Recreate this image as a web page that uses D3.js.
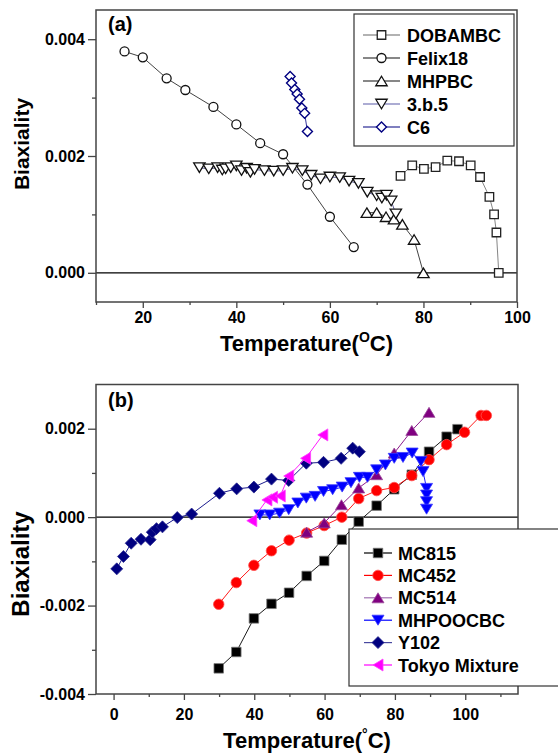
<!DOCTYPE html>
<html>
<head>
<meta charset="utf-8">
<script src="https://cdn.jsdelivr.net/npm/d3@7/dist/d3.min.js"></script>
<style>
  body { margin: 0; background: #fff; }
  svg text { font-family: "Liberation Sans", Arial, Helvetica, sans-serif; font-weight: bold; fill: #000; }
</style>
</head>
<body>
<svg id="chart" width="558" height="753"></svg>
<script>
// ---------- Panel (a): biaxiality vs temperature ----------
const dobambcT = [75.1, 77.6, 80.1, 82.6, 85.1, 87.6, 90.1, 92.1, 94.1, 95.1, 95.6, 96.1];
const dobambcB = [0.00166, 0.00184, 0.00178, 0.00181, 0.00192, 0.00191, 0.00184, 0.00164, 0.00130, 0.00100, 0.00069, 0];

const felixT = [16.1, 20.0, 25.1, 29.1, 35.1, 40.0, 45.1, 50.0, 55.2, 60.0, 65.1];
const felixB = [0.00379, 0.00369, 0.00333, 0.00313, 0.00284, 0.00254, 0.00222, 0.00203, 0.00151, 0.00096, 0.00044];

const mhpbcT = [67.9, 70.0, 72.0, 73.7, 75.5, 78.0, 80.0];
const mhpbcB = [0.00103, 0.00103, 0.00096, 0.00092, 0.00083, 0.00057, 0];

const b35T = [32.1, 34.1, 36.0, 37.0, 37.7, 38.8, 40.0, 41.1, 42.2, 43.0, 43.9, 46.0, 48.0, 50.0,
              52.0, 54.1, 56.0, 58.0, 60.0, 62.1, 64.1, 66.1, 68.0, 70.0, 71.1, 72.1, 73.1, 74.1];
const b35B = [0.00180, 0.00178, 0.00180, 0.00176, 0.00178, 0.00180, 0.00183, 0.00175, 0.00179, 0.00172,
              0.00177, 0.00175, 0.00174, 0.00175, 0.00179, 0.00175, 0.00167, 0.00161, 0.00164, 0.00163,
              0.00157, 0.00153, 0.00138, 0.00132, 0.00128, 0.00133, 0.00123, 0.00101];

const c6T = [51.5, 51.8, 52.5, 53.0, 53.5, 54.0, 54.6, 55.2];
const c6B = [0.00336, 0.00325, 0.00314, 0.00306, 0.00297, 0.00282, 0.00273, 0.00242];

const namesA = ["DOBAMBC", "Felix18", "MHPBC", "3.b.5", "C6"];
const xTicksA = [20, 40, 60, 80, 100];
const xMinorA = [10, 30, 50, 70, 90];
const yTicksA = [0, 0.002, 0.004];
const yMinorA = [0.001, 0.003];

// ---------- Panel (b) ----------
const mc815T = [29.9, 34.9, 39.9, 44.9, 49.9, 54.9, 59.9, 64.9, 69.7, 74.8, 79.8, 84.8, 89.7, 94.7, 97.8];
const mc815B = [-0.00342, -0.00305, -0.00229, -0.00196, -0.00171, -0.00133, -0.00099, -0.00051, -0.00010,
                0.00026, 0.00063, 0.00096, 0.00148, 0.00182, 0.00199];

const mc452T = [29.9, 34.9, 39.9, 44.9, 49.9, 54.9, 59.9, 64.9, 69.7, 74.8, 79.8, 84.8, 89.7, 94.7, 99.8, 104.5, 106.0];
const mc452B = [-0.00197, -0.00148, -0.00109, -0.00076, -0.00052, -0.00036, -0.00019, 0.00000, 0.00042,
                0.00060, 0.00067, 0.00094, 0.00130, 0.00164, 0.00192, 0.00230, 0.00230];

const mc514T = [54.9, 59.9, 64.8, 69.7, 74.8, 79.8, 84.8, 89.7];
const mc514B = [-0.00034, -0.00013, 0.00028, 0.00066, 0.00096, 0.00145, 0.00196, 0.00237];

const mhpoocbcT = [41.6, 44.4, 47.2, 49.8, 52.4, 54.8, 57.3, 59.7, 62.3, 65.0, 67.5, 69.9, 72.2, 74.8,
                   77.3, 79.8, 82.3, 84.9, 87.4, 88.0, 89.0, 89.0, 89.0, 89.0];
const mhpoocbcB = [0.00005, 0.00005, 0.00009, 0.00017, 0.00032, 0.00043, 0.00047, 0.00058, 0.00062, 0.00068,
                   0.00078, 0.00090, 0.00090, 0.00107, 0.00118, 0.00133, 0.00135, 0.00145, 0.00126, 0.00103,
                   0.00065, 0.00050, 0.00035, 0.00018];

const y102T = [0.9, 2.8, 5.0, 7.8, 10.4, 11.0, 12.2, 13.9, 18.1, 22.2, 30.1, 35.0, 39.9, 44.9, 49.8,
               54.8, 59.7, 64.7, 68.0, 69.9];
const y102B = [-0.00117, -0.00089, -0.00059, -0.00050, -0.00051, -0.00034, -0.00026, -0.00022, -0.00001,
               0.00007, 0.00054, 0.00064, 0.00068, 0.00086, 0.00083, 0.00122, 0.00124, 0.00133, 0.00156, 0.00148];

const tokyoT = [39.3, 43.6, 45.2, 47.4, 49.8, 54.6, 59.5];
const tokyoB = [-0.00008, 0.00039, 0.00045, 0.00048, 0.00093, 0.00133, 0.00186];

const namesB = ["MC815", "MC452", "MC514", "MHPOOCBC", "Y102", "Tokyo Mixture"];
const xTicksB = [0, 20, 40, 60, 80, 100];
const xMinorB = [10, 30, 50, 70, 90, 110];
const yTicksB = [-0.004, -0.002, 0, 0.002];
const yMinorB = [-0.003, -0.001, 0.001];

// ---------- marker shapes (s = nominal size in px) ----------
const shape = {
  square:  s => `M${-s/2},${-s/2}h${s}v${s}h${-s}Z`,
  circle:  s => `M${s/2},0A${s/2},${s/2} 0 1,1 ${-s/2},0A${s/2},${s/2} 0 1,1 ${s/2},0Z`,
  up:      s => `M0,${-s/2}L${s*0.6},${s/2}L${-s*0.6},${s/2}Z`,
  down:    s => `M0,${s/2}L${s*0.6},${-s/2}L${-s*0.6},${-s/2}Z`,
  left:    s => `M${-s/2},0L${s/2},${-s*0.6}L${s/2},${s*0.6}Z`,
  diamond: s => `M0,${-s/2}L${s/2},0L0,${s/2}L${-s/2},0Z`
};

const svg = d3.select("#chart");
const fmtY = d => d.toFixed(3);
const FRAME = "#444";

function drawPanel(p) {
  const x = d3.scaleLinear().domain(p.xDomain).range([p.left, p.right]);
  const y = d3.scaleLinear().domain(p.yDomain).range([p.bottom, p.top]);
  const g = svg.append("g");

  // axes: major ticks with labels, minor ticks without
  const styleAxis = (sel) => {
    sel.select(".domain").remove();
    sel.selectAll("line").attr("stroke", FRAME).attr("stroke-width", 1.3);
    sel.selectAll("text").attr("font-size", 16).attr("font-family", null);
  };
  g.append("g").attr("transform", `translate(0,${p.bottom})`)
    .call(d3.axisBottom(x).tickValues(p.xTicks).tickSize(6).tickPadding(p.xPad).tickFormat(d3.format("d")))
    .call(styleAxis);
  g.append("g").attr("transform", `translate(0,${p.bottom})`)
    .call(d3.axisBottom(x).tickValues(p.xMinor).tickSize(3).tickFormat(""))
    .call(styleAxis);
  g.append("g").attr("transform", `translate(${p.left},0)`)
    .call(d3.axisLeft(y).tickValues(p.yTicks).tickSize(8).tickPadding(3).tickFormat(fmtY))
    .call(styleAxis);
  g.append("g").attr("transform", `translate(${p.left},0)`)
    .call(d3.axisLeft(y).tickValues(p.yMinor).tickSize(4).tickFormat(""))
    .call(styleAxis);

  // zero reference line
  g.append("line")
    .attr("x1", p.left).attr("x2", p.right)
    .attr("y1", y(0)).attr("y2", y(0))
    .attr("stroke", "#000").attr("stroke-width", 1.2);

  // series
  const clipId = "clip" + p.id;
  svg.append("clipPath").attr("id", clipId).append("rect")
    .attr("x", p.left).attr("y", p.top).attr("width", p.right - p.left).attr("height", p.bottom - p.top);
  const data = g.append("g").attr("clip-path", `url(#${clipId})`);
  const line = d3.line().x(d => x(d[0])).y(d => y(d[1]));
  p.series.forEach(s => {
    const pts = s.t.map((t, i) => [t, s.b[i]]);
    data.append("path").datum(pts).attr("d", line)
      .attr("fill", "none").attr("stroke", s.line).attr("stroke-width", s.lw || 1);
    data.selectAll(null).data(pts).enter().append("path")
      .attr("transform", d => `translate(${x(d[0])},${y(d[1])})`)
      .attr("d", shape[s.shape](s.size))
      .attr("fill", s.fill).attr("stroke", s.stroke).attr("stroke-width", s.sw);
  });

  // frame
  g.append("rect")
    .attr("x", p.left).attr("y", p.top)
    .attr("width", p.right - p.left).attr("height", p.bottom - p.top)
    .attr("fill", "none").attr("stroke", FRAME).attr("stroke-width", 1.5);

  // panel tag
  g.append("text").attr("x", p.left + 12).attr("y", p.tagY)
    .attr("font-size", 20).text(p.tag);

  // axis titles
  const xt = g.append("text").attr("x", (p.left + p.right) / 2).attr("y", p.xTitleY)
    .attr("text-anchor", "middle").attr("font-size", 22);
  xt.append("tspan").text("Temperature(");
  xt.append("tspan").attr("font-size", 14).attr("dy", -9).text(p.degree);
  xt.append("tspan").attr("dy", 9).text("C)");

  g.append("text")
    .attr("transform", `translate(${p.yTitleX},${p.yTitleY}) rotate(-90)`)
    .attr("text-anchor", "middle").attr("font-size", p.yTitleSize)
    .text("Biaxiality");

  // legend
  const L = p.legend;
  g.append("rect").attr("x", L.x).attr("y", L.y).attr("width", L.w).attr("height", L.h)
    .attr("fill", "#fff").attr("stroke", "#333").attr("stroke-width", 1.2);
  p.series.forEach((s, i) => {
    const cy = L.y0 + i * L.dy;
    g.append("line").attr("x1", L.lx1).attr("x2", L.lx2).attr("y1", cy).attr("y2", cy)
      .attr("stroke", s.legendLine || s.line).attr("stroke-width", 1.2);
    g.append("path").attr("transform", `translate(${(L.lx1 + L.lx2) / 2},${cy})`)
      .attr("d", shape[s.shape](s.size))
      .attr("fill", s.fill).attr("stroke", s.stroke).attr("stroke-width", s.sw);
    g.append("text").attr("x", L.tx).attr("y", cy + 6.5).attr("font-size", 18).text(s.name);
  });
}

drawPanel({
  id: "a", tag: "(a)", tagY: 31,
  left: 96, right: 517, top: 10, bottom: 302,
  xDomain: [10, 100], yDomain: [-0.0005, 0.0045],
  xTicks: xTicksA, xMinor: xMinorA, yTicks: yTicksA, yMinor: yMinorA, xPad: 4,
  xTitleY: 351, degree: "O",
  yTitleX: 29, yTitleY: 144, yTitleSize: 21,
  legend: { x: 354, y: 14, w: 160, h: 132, y0: 35, dy: 23, lx1: 363, lx2: 400, tx: 407 },
  series: [
    { name: namesA[0], t: dobambcT, b: dobambcB, shape: "square", size: 8.5, fill: "#fff", stroke: "#222", sw: 1.3, line: "#666", lw: 0.8 },
    { name: namesA[1], t: felixT, b: felixB, shape: "circle", size: 9, fill: "#fff", stroke: "#111", sw: 1.3, line: "#111", lw: 0.8 },
    { name: namesA[2], t: mhpbcT, b: mhpbcB, shape: "up", size: 9.5, fill: "#fff", stroke: "#111", sw: 1.3, line: "#111", lw: 0.8 },
    { name: namesA[3], t: b35T, b: b35B, shape: "down", size: 9.5, fill: "#fff", stroke: "#111", sw: 1.3, line: "#33337a", lw: 0.8, legendLine: "#5a5aa8" },
    { name: namesA[4], t: c6T, b: c6B, shape: "diamond", size: 10, fill: "#fff", stroke: "#000080", sw: 1.4, line: "#000080", lw: 0.8 }
  ]
});

drawPanel({
  id: "b", tag: "(b)", tagY: 407,
  left: 96, right: 518, top: 384.5, bottom: 694,
  xDomain: [-5, 115], yDomain: [-0.004, 0.003],
  xTicks: xTicksB, xMinor: xMinorB, yTicks: yTicksB, yMinor: yMinorB, xPad: 9,
  xTitleY: 748, degree: "°",
  yTitleX: 29, yTitleY: 564, yTitleSize: 24,
  legend: { x: 349, y: 529, w: 212, h: 157, y0: 553, dy: 22.4, lx1: 364, lx2: 392, tx: 398 },
  series: [
    { name: namesB[0], t: mc815T, b: mc815B, shape: "square", size: 9.5, fill: "#000", stroke: "#777", sw: 0.8, line: "#000", lw: 0.9 },
    { name: namesB[1], t: mc452T, b: mc452B, shape: "circle", size: 10.5, fill: "#ff0000", stroke: "#ff5050", sw: 0.8, line: "#ff0000", lw: 0.9 },
    { name: namesB[2], t: mc514T, b: mc514B, shape: "up", size: 10, fill: "#800080", stroke: "#9a4a9a", sw: 0.8, line: "#800080", lw: 0.9, legendLine: "#a070b0" },
    { name: namesB[3], t: mhpoocbcT, b: mhpoocbcB, shape: "down", size: 10, fill: "#0000ff", stroke: "#3a3aff", sw: 0.8, line: "#0000ff", lw: 0.9 },
    { name: namesB[4], t: y102T, b: y102B, shape: "diamond", size: 12, fill: "#000080", stroke: "#2a2a90", sw: 0.8, line: "#000080", lw: 0.9, legendLine: "#4848a0" },
    { name: namesB[5], t: tokyoT, b: tokyoB, shape: "left", size: 10, fill: "#ff00ff", stroke: "#ff40ff", sw: 0.8, line: "#ff00ff", lw: 0.9 }
  ]
});
</script>
</body>
</html>
